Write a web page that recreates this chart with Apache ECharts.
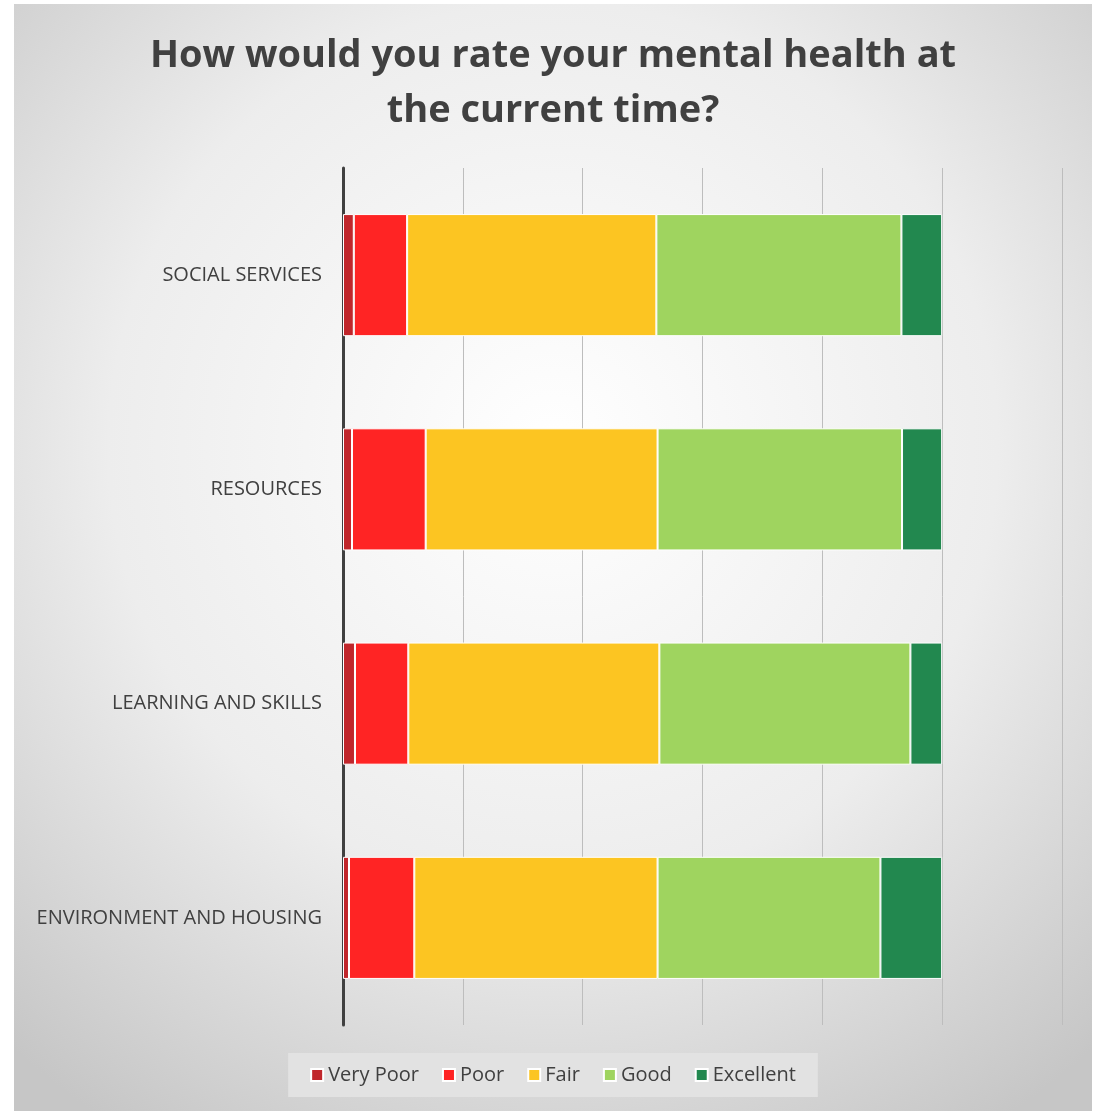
<!DOCTYPE html>
<html>
<head>
<meta charset="utf-8">
<script src="https://cdn.jsdelivr.net/npm/echarts@6/dist/echarts.min.js"></script>
<style>
  html, body { margin: 0; padding: 0; background: #ffffff; }
  #chart { position: absolute; left: 14px; top: 4px; width: 1078px; height: 1107px; }
</style>
</head>
<body>
<div id="chart"></div>
<script>
// categories, top to bottom
const categories = ['SOCIAL SERVICES', 'RESOURCES', 'LEARNING AND SKILLS', 'ENVIRONMENT AND HOUSING'];
// percentage share of each rating per category
const veryPoor  = [1.8, 1.5, 2.0, 1.0];
const poor      = [8.9, 12.3, 8.9, 10.9];
const fair      = [41.6, 38.7, 41.9, 40.6];
const good      = [40.9, 40.8, 41.9, 37.2];
const excellent = [6.8, 6.7, 5.3, 10.3];

const seriesNames = ['Very Poor', 'Poor', 'Fair', 'Good', 'Excellent'];
const seriesData = [veryPoor, poor, fair, good, excellent];
const colors = ['#c0262b', '#ff2424', '#fcc522', '#9fd45f', '#22884f'];

const chart = echarts.init(document.getElementById('chart'));
chart.setOption({
  backgroundColor: {
    type: 'radial', x: 0.5, y: 0.4, r: 0.75,
    colorStops: [
      { offset: 0, color: '#ffffff' },
      { offset: 0.55, color: '#ededed' },
      { offset: 1, color: '#c6c6c6' }
    ]
  },
  color: colors,
  title: {
    text: 'How would you rate your mental health at\nthe current time?',
    left: 'center',
    top: 20,
    textStyle: {
      fontFamily: 'Open Sans',
      fontSize: 38,
      fontWeight: 'bold',
      color: '#404040',
      lineHeight: 55
    }
  },
  legend: {
    data: seriesNames,
    left: 'center',
    top: 1049,
    icon: 'rect',
    itemWidth: 12,
    itemHeight: 12,
    itemGap: 23,
    padding: [12, 22],
    backgroundColor: '#e2e2e2',
    textStyle: { fontFamily: 'Open Sans', fontSize: 20, color: '#404040' }
  },
  grid: { left: 329, right: 30, top: 164, bottom: 86, containLabel: false },
  xAxis: {
    type: 'value',
    min: 0,
    max: 120,
    interval: 20,
    axisLabel: { show: false },
    axisLine: { show: false },
    axisTick: { show: false },
    splitLine: { show: true, lineStyle: { color: '#bdbdbd', width: 1 } }
  },
  yAxis: {
    type: 'category',
    data: categories,
    inverse: true,
    axisTick: { show: false },
    axisLine: { show: true, lineStyle: { color: '#404040', width: 3 } },
    axisLabel: { margin: 21, fontFamily: 'Open Sans', fontSize: 20, color: '#404040' }
  },
  series: seriesNames.map((name, i) => ({
    name: name,
    type: 'bar',
    stack: 'total',
    barCategoryGap: '43%',
    data: seriesData[i],
    itemStyle: { borderColor: '#ffffff', borderWidth: 1 }
  }))
});
</script>
</body>
</html>
